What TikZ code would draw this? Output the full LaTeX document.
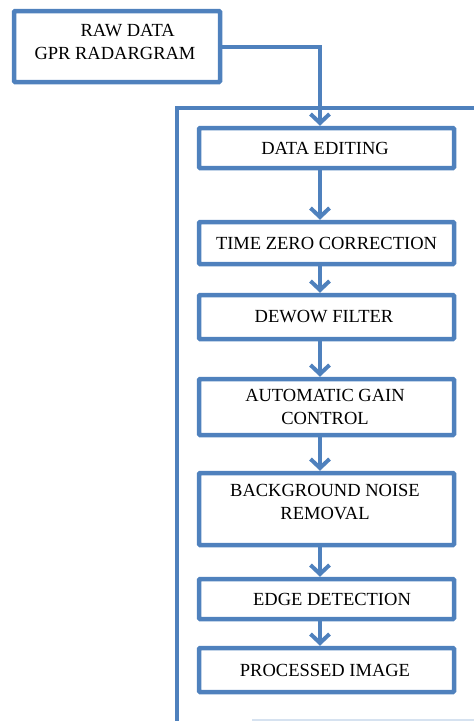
\documentclass[tikz,border=0pt]{standalone}
\usepackage{fontspec}
\setmainfont{Liberation Serif}
\usetikzlibrary{arrows.meta,calc}
\definecolor{flowblue}{RGB}{79,129,189}
\definecolor{faintblue}{RGB}{214,226,240}
\tikzset{
  stepbox/.style={draw=flowblue, line width=4.5pt, rounded corners=1pt, minimum width=255pt, inner sep=0pt},
  txt/.style={font=\fontsize{18.5}{23}\selectfont, align=center, inner sep=0pt, text=black},
  conn/.style={draw=flowblue, line width=4pt, -{Straight Barb[length=9pt,width=19pt]}},
  framel/.style={draw=flowblue, line width=4.5pt},
}
\begin{document}
\begin{tikzpicture}[x=1pt,y=-1pt]
\useasboundingbox (0,0) rectangle (474,721);
\clip (0,0) rectangle (474,721);
% outer frame
\coordinate (fr1) at (490,108);
\coordinate (fr2) at (177,108);
\coordinate (fr3) at (177,740);
\draw[framel] (fr1) -- (fr2) -- (fr3);
\coordinate (fb1) at (252,720);
\coordinate (fb2) at (490,720);
\draw[faintblue, line width=2pt] (fb1) -- (fb2);
% raw data box
\node[stepbox, minimum width=206pt, minimum height=71pt] (raw) at (117,46.5) {};
\node[txt, align=left] (rawT) at (115,41.5) {\hspace*{46pt}RAW DATA\\GPR RADARGRAM};
% steps
\node[stepbox, minimum height=40pt] (de) at (326.5,148) {};
\node[txt] (deT) at (325,148) {DATA EDITING};
\node[stepbox, minimum height=42pt] (tz) at (326.5,243) {};
\node[txt] (tzT) at (326.5,243) {TIME ZERO CORRECTION};
\node[stepbox, minimum height=44pt] (dw) at (326.5,317) {};
\node[txt] (dwT) at (324,317) {DEWOW FILTER};
\node[stepbox, minimum height=56pt] (agc) at (326.5,407) {};
\node[txt] (agcT) at (325,407) {AUTOMATIC GAIN\\CONTROL};
\node[stepbox, minimum height=72pt] (bg) at (326.5,509) {};
\node[txt] (bgT) at (325,502.5) {BACKGROUND NOISE\\REMOVAL};
\node[stepbox, minimum height=40pt] (ed) at (326.5,599) {};
\node[txt] (edT) at (332,599) {EDGE DETECTION};
\node[stepbox, minimum height=44pt] (pi) at (326.5,670) {};
\node[txt] (piT) at (325,670) {PROCESSED IMAGE};
% connectors
\coordinate (col) at (320,0);
\draw[conn] (raw.east) -| (de.north -| col);
\draw[conn] (de.south -| col) -- (tz.north -| col);
\draw[conn] (tz.south -| col) -- (dw.north -| col);
\draw[conn] (dw.south -| col) -- (agc.north -| col);
\draw[conn] (agc.south -| col) -- (bg.north -| col);
\draw[conn] (bg.south -| col) -- (ed.north -| col);
\draw[conn] (ed.south -| col) -- (pi.north -| col);
\end{tikzpicture}
\end{document}
